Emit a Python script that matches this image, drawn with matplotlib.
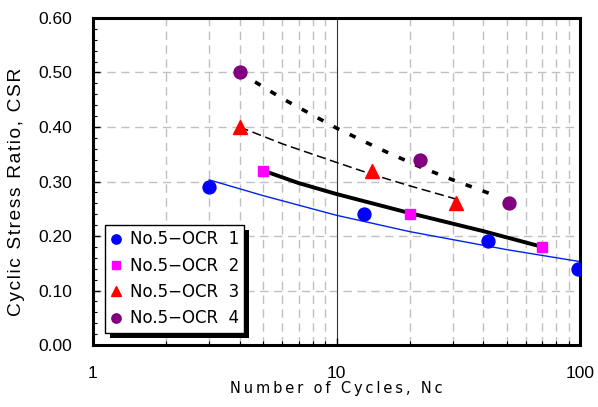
import matplotlib
matplotlib.use("Agg")
import matplotlib.pyplot as plt
from matplotlib.patches import Rectangle
from matplotlib.ticker import FixedLocator, NullFormatter, MultipleLocator

# measured points
n1 = [3, 13, 42, 98]
csr1 = [0.29, 0.24, 0.19, 0.14]
n2 = [5, 20, 70]
csr2 = [0.32, 0.24, 0.18]
n3 = [4, 14, 31]
csr3 = [0.40, 0.32, 0.26]
n4 = [4, 22, 51]
csr4 = [0.50, 0.34, 0.26]

# trend lines
fn1 = [3, 5, 10, 20, 50, 100]
fc1 = [0.303, 0.274, 0.238, 0.208, 0.175, 0.153]
fn2 = [5, 7, 10, 20, 40, 70]
fc2 = [0.320, 0.297, 0.277, 0.242, 0.209, 0.180]
fn3 = [4, 6, 10, 14, 20, 32]
fc3 = [0.400, 0.369, 0.335, 0.313, 0.292, 0.266]
fn4 = [4, 6, 10, 15, 22, 30, 45]
fc4 = [0.500, 0.452, 0.398, 0.360, 0.327, 0.303, 0.274]

labels = ["No.5\u2212OCR  1", "No.5\u2212OCR  2", "No.5\u2212OCR  3", "No.5\u2212OCR  4"]
yticks = [0.0, 0.1, 0.2, 0.3, 0.4, 0.5, 0.6]
xticks = [1, 10, 100]
xlabel_text = "Number of Cycles, Nc"
ylabel_text = "Cyclic Stress Ratio, CSR"


def spaced(s, sep):
    return sep.join(s)


fig = plt.figure(figsize=(5.98, 4.07), dpi=100)
ax = fig.add_axes([0.1555, 0.1523, 0.8145, 0.8035])
ax.set_xscale("log")
ax.set_xlim(1, 100)
ax.set_ylim(0, 0.6)

# grid
minor_x = [k * 10 ** e for e in (0, 1) for k in range(2, 10)]
for xv in minor_x:
    ax.axvline(xv, color="#c0c0c0", lw=1.0, ls=(0, (6, 4)), zorder=0)
for yv in yticks[1:-1]:
    ax.axhline(yv, color="#c0c0c0", lw=1.0, ls=(0, (6, 4)), zorder=0)
ax.axvline(10, color="#333333", lw=0.8, zorder=0.5)

# lines
ax.plot(fn1, fc1, color="#0022ee", lw=1.0, zorder=2)
ax.plot(fn2, fc2, color="black", lw=2.8, zorder=2)
ax.plot(fn3, fc3, color="black", lw=1.1, dashes=(6, 3), zorder=2)
ax.plot(fn4, fc4, color="black", lw=2.6, dashes=(1.8, 3.2), zorder=2)

# markers
h1, = ax.plot(n1, csr1, "o", color="#0000ff", ms=9.3, ls="none", zorder=3, label=labels[0])
h2, = ax.plot(n2, csr2, "s", color="#ff00ff", ms=7.4, ls="none", zorder=3, label=labels[1])
h3, = ax.plot(n3, csr3, "^", color="#ff0000", ms=10, ls="none", zorder=3, label=labels[2])
h4, = ax.plot(n4, csr4, "o", color="#800080", ms=9.3, ls="none", zorder=3, label=labels[3])

ax.set_xticks(xticks)
ax.set_xticklabels(["1", "10", "100"], fontfamily="Liberation Sans", fontsize=12.5)
ax.xaxis.set_minor_locator(FixedLocator(minor_x))
ax.xaxis.set_minor_formatter(NullFormatter())
ax.set_yticks(yticks)
ax.set_yticklabels([f"{v:.2f}" for v in yticks], fontfamily="Liberation Sans", fontsize=12.5)
ax.yaxis.set_minor_locator(MultipleLocator(0.02))
ax.tick_params(which="both", direction="in")
ax.tick_params(which="major", length=5, width=1)
ax.tick_params(which="minor", length=3, width=0.8)
ax.tick_params(axis="x", which="major", pad=15)
ax.tick_params(axis="y", which="major", pad=15)
for s in ax.spines.values():
    s.set_linewidth(2.2)

ax.set_xlabel(spaced(xlabel_text, "\u2009"), fontsize=10.5, family=["DejaVu Sans"])
ax.xaxis.label.set_va("center")
ax.xaxis.set_label_coords(0.5, -0.1315)
ax.set_ylabel(spaced(ylabel_text, "\u200a"), fontsize=13.8, family=["Liberation Sans", "DejaVu Sans"])
ax.yaxis.label.set_va("center")
ax.yaxis.set_label_coords(-0.158, 0.468)

leg = ax.legend(handles=[h1, h2, h3, h4], loc="lower left", bbox_to_anchor=(0.0246, 0.037),
                borderaxespad=0, fancybox=False, edgecolor="black", framealpha=1,
                fontsize=12, markerscale=0.72,
                handlelength=0.7, handletextpad=0.45, labelspacing=0.5, borderpad=0.33)
leg.get_frame().set_linewidth(1.0)
leg.set_zorder(6)

fig.canvas.draw()
bb = leg.get_window_extent()
shadow = Rectangle((bb.x0 + 5, bb.y0 - 5), bb.width, bb.height, transform=None,
                   facecolor="black", edgecolor="none", zorder=5.5, clip_on=False)
ax.add_artist(shadow)

fig.savefig("out.png", dpi=100)
